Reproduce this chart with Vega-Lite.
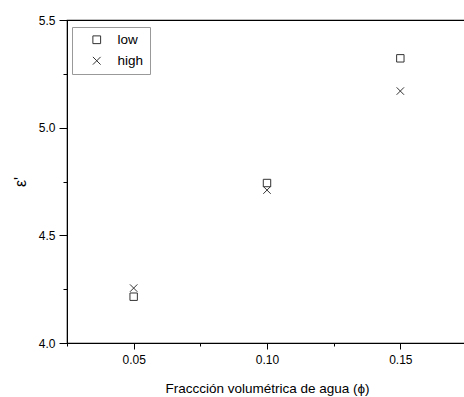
{
  "$schema": "https://vega.github.io/schema/vega-lite/v6.json",
  "width": 400,
  "height": 323,
  "autosize": "none",
  "padding": {"left": 67, "top": 20, "right": 0, "bottom": 54},
  "background": "white",
  "config": {
    "font": "Liberation Sans",
    "view": {"stroke": "#000", "strokeWidth": 1.2}
  },
  "data": {
    "values": [
      {"phi": 0.05, "eps": 4.215, "series": "low"},
      {"phi": 0.10, "eps": 4.743, "series": "low"},
      {"phi": 0.15, "eps": 5.322, "series": "low"},
      {"phi": 0.05, "eps": 4.255, "series": "high"},
      {"phi": 0.10, "eps": 4.71, "series": "high"},
      {"phi": 0.15, "eps": 5.17, "series": "high"}
    ]
  },
  "mark": {"type": "point", "filled": false, "stroke": "#333", "strokeWidth": 1, "opacity": 1},
  "encoding": {
    "x": {
      "field": "phi", "type": "quantitative",
      "scale": {"domain": [0.025, 0.175], "nice": false, "zero": false},
      "axis": {
        "title": "Fraccción volumétrica de agua (ϕ)",
        "values": [0.025, 0.05, 0.075, 0.1, 0.125, 0.15, 0.175],
        "labelExpr": "round(datum.value*1000) % 50 == 0 ? format(datum.value, '.2f') : ''",
        "grid": false, "domainColor": "#000", "tickColor": "#000",
        "tickSize": {"condition": {"test": "round(datum.value*1000) % 50 != 0", "value": 3}, "value": 6},
        "labelFontSize": 12, "labelColor": "#000", "labelPadding": 5,
        "titleFontSize": 13.5, "titleFontWeight": "normal", "titleColor": "#000", "titlePadding": 16
      }
    },
    "y": {
      "field": "eps", "type": "quantitative",
      "scale": {"domain": [4.0, 5.5], "nice": false, "zero": false},
      "axis": {
        "title": "ε'",
        "values": [4.0, 4.25, 4.5, 4.75, 5.0, 5.25, 5.5],
        "labelExpr": "round(datum.value*100) % 50 == 0 ? format(datum.value, '.1f') : ''",
        "grid": false, "domainColor": "#000", "tickColor": "#000",
        "tickSize": {"condition": {"test": "round(datum.value*100) % 50 != 0", "value": 4}, "value": 8},
        "labelFontSize": 12, "labelColor": "#000", "labelPadding": 4,
        "titleFontSize": 16, "titleFontWeight": "normal", "titleColor": "#000", "titlePadding": 10
      }
    },
    "shape": {
      "field": "series", "type": "nominal",
      "scale": {"domain": ["low", "high"], "range": ["square", "M-1,-1L1,1M-1,1L1,-1"]},
      "legend": {
        "orient": "none", "legendX": 5, "legendY": 7,
        "title": null,
        "strokeColor": "#999", "fillColor": "white",
        "padding": 6,
        "symbolStrokeColor": "#333", "symbolFillColor": "transparent", "symbolStrokeWidth": 1,
        "symbolSize": 60,
        "symbolOffset": 12,
        "labelFontSize": 13.5, "labelColor": "#000", "labelOffset": 14,
        "rowPadding": 6
      }
    },
    "size": {"value": 55}
  }
}
